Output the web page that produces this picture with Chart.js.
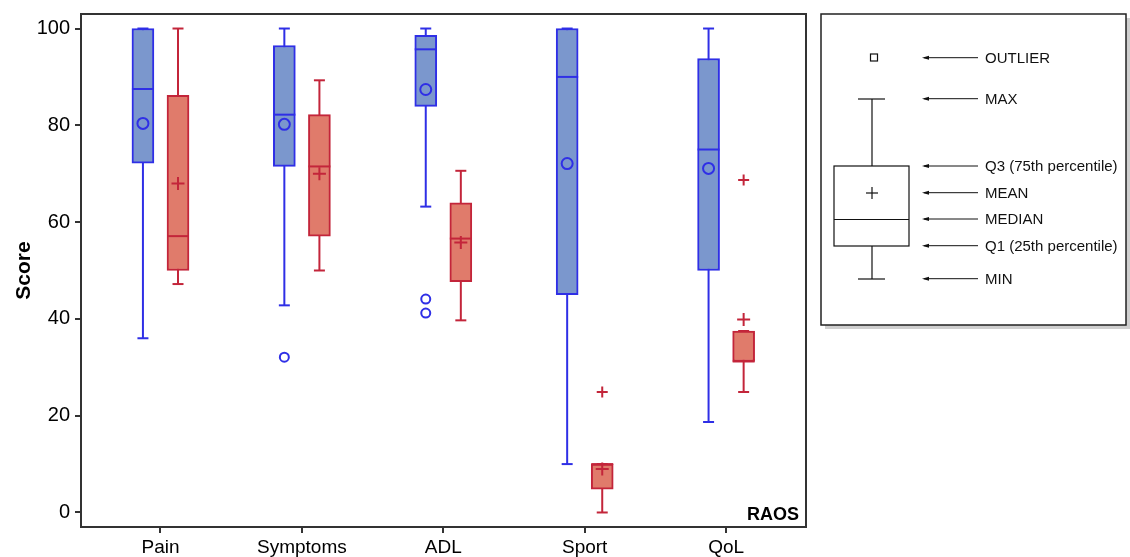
<!DOCTYPE html>
<html>
<head>
<meta charset="utf-8">
<script src="https://cdn.jsdelivr.net/npm/chart.js@4.4.1/dist/chart.umd.min.js"></script>
<style>
  html, body { margin: 0; padding: 0; background: #fff; }
  #wrap { position: relative; width: 1130px; height: 557px; }
</style>
</head>
<body>
<div id="wrap"><canvas id="chart" width="1130" height="557"></canvas></div>
<script>
const categories = ['Pain', 'Symptoms', 'ADL', 'Sport', 'QoL'];
const yTicks = [0, 20, 40, 60, 80, 100];

// blue group (circle markers)
const blueMin = [36.0, 42.8, 63.2, 10.0, 18.7];
const blueQ1 = [72.2, 71.5, 83.9, 45.0, 50.0];
const blueMedian = [87.5, 82.2, 95.7, 90.0, 75.0];
const blueQ3 = [100, 96.5, 98.6, 100, 93.8];
const blueMax = [100, 100, 100, 100, 100];
const blueMean = [80.4, 80.2, 87.4, 72.1, 71.1];
const blueOutliers = [[], [32.1], [44.1, 41.2], [], []];

// red group (plus markers)
const redMin = [47.2, 50.0, 39.7, 0.0, 24.9];
const redQ1 = [50.0, 57.1, 47.7, 4.8, 31.2];
const redMedian = [57.1, 71.5, 56.6, 10.0, 31.2];
const redQ3 = [86.2, 82.2, 64.0, 10.0, 37.5];
const redMax = [100, 89.3, 70.6, 10.0, 37.5];
const redMean = [68.0, 70.0, 55.8, 9.0, 39.9];
const redOutliers = [[], [], [], [24.9], [68.7]];

const FONT = "'Liberation Sans', Arial, Helvetica, sans-serif";
const BLUE_FILL = '#7b97cd', BLUE_LINE = '#2f2fe6';
const RED_FILL = '#e07b6b', RED_LINE = '#c3253a';
const BOX_W = 22;
const DX = 0.124;   // side-by-side shift of each group inside a category

const groups = [
  { name: 'blue', dx: -DX, min: blueMin, q1: blueQ1, med: blueMedian, q3: blueQ3, max: blueMax, line: BLUE_LINE },
  { name: 'red', dx: DX, min: redMin, q1: redQ1, med: redMedian, q3: redQ3, max: redMax, line: RED_LINE }
];

const boxData = g => categories.map((c, i) => ({ x: i + g.dx, y: [g.q1[i], g.q3[i]] }));
const meanData = (vals, dx) => vals.flatMap((v, i) => v == null ? [] : [{ x: i + dx, y: v }]);
const outlierData = (lists, dx) => lists.flatMap((list, i) => list.map(v => ({ x: i + dx, y: v })));

function line(ctx, x1, y1, x2, y2) {
  ctx.beginPath(); ctx.moveTo(x1, y1); ctx.lineTo(x2, y2); ctx.stroke();
}

// static key on the right explaining the box symbols
function drawKey(ctx) {
  const L = 821, T = 14, R = 1126, B = 325;
  ctx.fillStyle = '#cfcfcf';
  ctx.fillRect(L + 4, T + 4, R - L, B - T);
  ctx.fillStyle = '#fff';
  ctx.fillRect(L, T, R - L, B - T);
  ctx.strokeStyle = '#222'; ctx.lineWidth = 1.5;
  ctx.strokeRect(L, T, R - L, B - T);

  ctx.strokeStyle = '#111'; ctx.lineWidth = 1.2;
  ctx.strokeRect(870.5, 54, 7, 7);
  line(ctx, 872, 99, 872, 166); line(ctx, 858, 99, 885, 99);
  line(ctx, 872, 246, 872, 279); line(ctx, 858, 279, 885, 279);
  ctx.strokeRect(834, 166, 75, 80);
  line(ctx, 834, 219.5, 909, 219.5);
  line(ctx, 866, 193, 878, 193); line(ctx, 872, 187, 872, 199);

  const entries = [['OUTLIER', 57.7], ['MAX', 98.7], ['Q3 (75th percentile)', 166], ['MEAN', 192.7],
                   ['MEDIAN', 219], ['Q1 (25th percentile)', 245.7], ['MIN', 278.7]];
  ctx.font = '15px ' + FONT;
  ctx.textAlign = 'left'; ctx.textBaseline = 'middle';
  entries.forEach(([label, y]) => {
    ctx.strokeStyle = '#111'; ctx.lineWidth = 1;
    line(ctx, 924, y, 978, y);
    ctx.fillStyle = '#111';
    ctx.beginPath(); ctx.moveTo(922, y); ctx.lineTo(929, y - 2); ctx.lineTo(929, y + 2); ctx.closePath(); ctx.fill();
    ctx.fillText(label, 985, y + 1);
  });
}

const boxPlotLines = {
  id: 'boxPlotLines',
  beforeDatasetsDraw(chart) {
    const { ctx, scales: { x, y } } = chart;
    ctx.save();
    ctx.lineWidth = 2;
    groups.forEach(g => {
      ctx.strokeStyle = g.line;
      categories.forEach((c, i) => {
        const px = x.getPixelForValue(i + g.dx);
        const top = y.getPixelForValue(g.max[i]);
        const bot = y.getPixelForValue(g.min[i]);
        line(ctx, px, top, px, bot);
        line(ctx, px - 5.5, top, px + 5.5, top);
        line(ctx, px - 5.5, bot, px + 5.5, bot);
      });
    });
    ctx.restore();
  },
  afterDatasetDraw(chart, args) {
    const ds = chart.data.datasets[args.index];
    if (!ds.boxGroup) return;
    const g = groups.find(gr => gr.name === ds.boxGroup);
    const { ctx, scales: { y } } = chart;
    ctx.save();
    ctx.strokeStyle = g.line; ctx.lineWidth = 2;
    args.meta.data.forEach((bar, i) => {
      const py = y.getPixelForValue(g.med[i]);
      line(ctx, bar.x - bar.width / 2, py, bar.x + bar.width / 2, py);
    });
    ctx.restore();
  },
  afterDraw(chart) {
    const { ctx, chartArea: a } = chart;
    ctx.save();
    ctx.strokeStyle = '#333'; ctx.lineWidth = 2;
    ctx.strokeRect(a.left, a.top, a.right - a.left, a.bottom - a.top);
    ctx.fillStyle = '#000';
    ctx.font = 'bold 18px ' + FONT;
    ctx.textAlign = 'right'; ctx.textBaseline = 'alphabetic';
    ctx.fillText('RAOS', a.right - 7, a.bottom - 7);
    drawKey(ctx);
    ctx.restore();
  }
};

new Chart(document.getElementById('chart'), {
  type: 'bar',
  data: {
    datasets: [
      { type: 'scatter', order: 0, data: meanData(blueMean, -DX), pointStyle: 'circle', pointRadius: 5.5,
        pointBackgroundColor: 'rgba(0,0,0,0)', pointBorderColor: BLUE_LINE, pointBorderWidth: 2 },
      { type: 'scatter', order: 0, data: outlierData(blueOutliers, -DX), pointStyle: 'circle', pointRadius: 4.5,
        pointBackgroundColor: 'rgba(0,0,0,0)', pointBorderColor: BLUE_LINE, pointBorderWidth: 2 },
      { type: 'scatter', order: 0, data: meanData(redMean, DX), pointStyle: 'cross', pointRadius: 6.5,
        pointBorderColor: RED_LINE, pointBorderWidth: 2 },
      { type: 'scatter', order: 0, data: outlierData(redOutliers, DX), pointStyle: 'cross', pointRadius: 5.5,
        pointBorderColor: RED_LINE, pointBorderWidth: 2 },
      { boxGroup: 'blue', order: 1, data: boxData(groups[0]), backgroundColor: BLUE_FILL, borderColor: BLUE_LINE,
        borderWidth: 2, borderSkipped: false, barThickness: BOX_W, grouped: false },
      { boxGroup: 'red', order: 1, data: boxData(groups[1]), backgroundColor: RED_FILL, borderColor: RED_LINE,
        borderWidth: 2, borderSkipped: false, barThickness: BOX_W, grouped: false }
    ]
  },
  options: {
    responsive: false,
    animation: false,
    layout: { padding: { top: 14, right: 324, bottom: 0, left: 0 } },
    plugins: { legend: { display: false }, tooltip: { enabled: false } },
    scales: {
      x: {
        type: 'linear', min: -0.562, max: 4.565, offset: false,
        afterBuildTicks: s => { s.ticks = categories.map((c, i) => ({ value: i })); },
        afterFit: s => { s.height = 30; s.paddingLeft = 0; s.paddingRight = 0; },
        ticks: { callback: v => categories[v], color: '#000', font: { family: FONT, size: 19 }, padding: 3, maxRotation: 0 },
        grid: { offset: false, drawOnChartArea: false, drawTicks: true, tickLength: 6, color: '#333', lineWidth: 2 },
        border: { display: false }
      },
      y: {
        type: 'linear', min: -3, max: 103,
        afterBuildTicks: s => { s.ticks = yTicks.map(v => ({ value: v })); },
        afterFit: s => { s.width = 81; s.paddingTop = 0; s.paddingBottom = 0; },
        ticks: { color: '#000', font: { family: FONT, size: 20 }, padding: 5 },
        grid: { drawOnChartArea: false, drawTicks: true, tickLength: 6, color: '#333', lineWidth: 2 },
        border: { display: false },
        title: { display: true, text: 'Score', color: '#000', font: { family: FONT, size: 21, weight: 'bold' }, padding: { top: 12, bottom: 0 } }
      }
    }
  },
  plugins: [boxPlotLines]
});
</script>
</body>
</html>
